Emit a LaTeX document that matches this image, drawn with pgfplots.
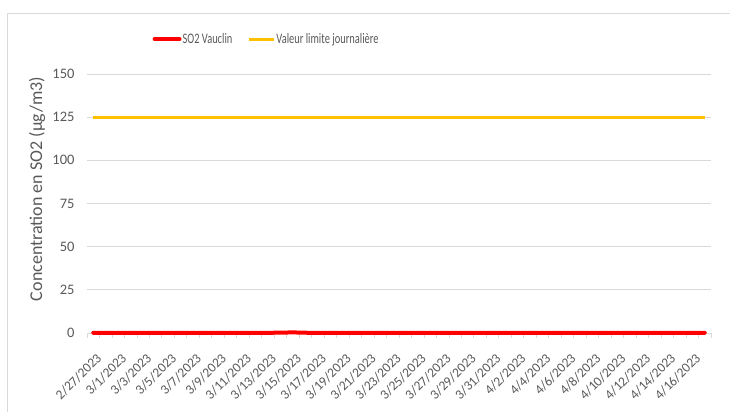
\documentclass[border=0pt]{standalone}
\usepackage{pgfplots}
\pgfplotsset{compat=1.18}
\usepackage{fontspec}
\setmainfont{Carlito}
\newfontfamily\legfont[FakeStretch=0.72]{Carlito}
\definecolor{txt}{RGB}{89,89,89}
\definecolor{gridc}{RGB}{217,217,217}
\definecolor{so2}{RGB}{255,0,0}
\definecolor{lim}{RGB}{255,192,0}
\begin{document}
\begin{tikzpicture}
\draw[gridc, line width=1bp] (7bp,0bp) -- (7bp,398bp) -- (730bp,398bp);
\begin{axis}[
  at={(87bp,79bp)}, anchor=south west,
  scale only axis, width=624bp, height=259bp,
  xmin=-0.5, xmax=49.5, ymin=0, ymax=150,
  axis x line*=bottom, axis y line*=left,
  x axis line style={gridc, line width=0.8bp, -},
  y axis line style={draw=none},
  ytick={0,25,...,150},
  ymajorgrids, grid style={gridc, line width=0.8bp},
  ytick style={draw=none},
  xtick={0,2,...,48},
  xticklabels={2/27/2023,3/1/2023,3/3/2023,3/5/2023,3/7/2023,3/9/2023,3/11/2023,3/13/2023,3/15/2023,3/17/2023,3/19/2023,3/21/2023,3/23/2023,3/25/2023,3/27/2023,3/29/2023,3/31/2023,4/2/2023,4/4/2023,4/6/2023,4/8/2023,4/10/2023,4/12/2023,4/14/2023,4/16/2023},
  minor xtick={-0.5,0.5,...,49.5},
  major tick length=0pt, minor tick length=5bp,
  tick align=outside,
  minor x tick style={gridc, line width=0.8bp},
  xticklabel style={xshift=6bp, yshift=-23bp, rotate=45, anchor=east, font=\fontsize{13.5bp}{16bp}\selectfont, text=txt, inner sep=0pt},
  yticklabel style={font=\fontsize{14.5bp}{17bp}\selectfont, text=txt, xshift=-9bp},
  /pgf/number format/assume math mode=true,
  ylabel={Concentration en SO2 (µg/m3)},
  every axis y label/.style={at={(axis description cs:-0.080,0.556)}, rotate=90, anchor=center, font=\fontsize{18bp}{21bp}\selectfont, text=txt},
  legend style={at={(axis description cs:0.287,1.135)}, anchor=center, draw=none, fill=none, font=\legfont\fontsize{14.5bp}{17bp}\selectfont, text=txt, /tikz/every even column/.append style={column sep=14bp}, inner sep=0pt, nodes={inner sep=1bp}},
  legend columns=2,
  legend image code/.code={\draw[#1] (0bp,0bp) -- (25bp,0bp);},
  clip=false,
]
\addplot[so2, line width=4bp, line cap=round] coordinates {
(0,0.1) (1,0.1) (2,0.1) (3,0.1) (4,0.1) (5,0.1) (6,0.1) (7,0.1) (8,0.1) (9,0.1)
(10,0.1) (11,0.1) (12,0.1) (13,0.1) (14,0.1) (15,0.2) (16,0.35) (17,0.15) (18,0.1) (19,0.1)
(20,0.1) (21,0.1) (22,0.1) (23,0.1) (24,0.1) (25,0.1) (26,0.1) (27,0.1) (28,0.1) (29,0.1)
(30,0.1) (31,0.1) (32,0.1) (33,0.1) (34,0.1) (35,0.1) (36,0.1) (37,0.1) (38,0.1) (39,0.1)
(40,0.1) (41,0.1) (42,0.1) (43,0.1) (44,0.1) (45,0.1) (46,0.1) (47,0.1) (48,0.1) (49,0.1)
};
\addlegendentry{SO2 Vauclin}
\addplot[lim, line width=3bp] coordinates {
(0,125) (1,125) (2,125) (3,125) (4,125) (5,125) (6,125) (7,125) (8,125) (9,125)
(10,125) (11,125) (12,125) (13,125) (14,125) (15,125) (16,125) (17,125) (18,125) (19,125)
(20,125) (21,125) (22,125) (23,125) (24,125) (25,125) (26,125) (27,125) (28,125) (29,125)
(30,125) (31,125) (32,125) (33,125) (34,125) (35,125) (36,125) (37,125) (38,125) (39,125)
(40,125) (41,125) (42,125) (43,125) (44,125) (45,125) (46,125) (47,125) (48,125) (49,125)
};
\addlegendentry{Valeur limite journalière}
\end{axis}
\pgfresetboundingbox
\path (0bp,0bp) rectangle (730bp,412bp);
\end{tikzpicture}
\end{document}
